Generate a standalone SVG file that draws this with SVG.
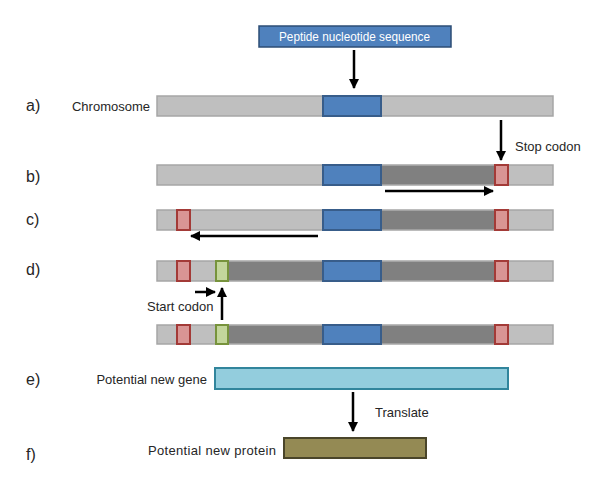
<svg xmlns="http://www.w3.org/2000/svg" width="600" height="477" viewBox="0 0 600 477">
<style>
text{font-family:"Liberation Sans",Arial,sans-serif;fill:#262626}
.lbl{font-size:16px}
.t{font-size:13px}
.bar{fill:#bfbfbf;stroke:#a6a6a6;stroke-width:1.5}
.dk{fill:#808080}
.blue{fill:#4f81bd;stroke:#385d8a;stroke-width:2}
.red{fill:#d99594;stroke:#a33a37;stroke-width:2}
.grn{fill:#c3d69b;stroke:#77933c;stroke-width:2}
.ar{stroke:#000;stroke-width:2.5;fill:none;marker-end:url(#ah)}
</style>
<defs>
<marker id="ah" viewBox="0 0 10 10" refX="9" refY="5" markerWidth="4" markerHeight="4" orient="auto" markerUnits="strokeWidth">
<path d="M0,0 L10,5 L0,10 Z" fill="#000"/>
</marker>
</defs>
<rect width="600" height="477" fill="#fff"/>

<g id="labels">
<text class="lbl" x="26" y="111">a)</text>
<text class="lbl" x="26" y="182">b)</text>
<text class="lbl" x="26" y="225">c)</text>
<text class="lbl" x="26" y="275">d)</text>
<text class="lbl" x="26" y="385">e)</text>
<text class="lbl" x="26" y="460">f)</text>
</g>

<g id="peptide">
<rect x="259" y="26" width="192" height="21" fill="#4f81bd" stroke="#2c4d75" stroke-width="1.5"/>
<text class="t" x="279" y="41" textLength="151" lengthAdjust="spacingAndGlyphs" style="fill:#fff">Peptide nucleotide sequence</text>
</g>

<g id="row-a">
<text class="t" x="150" y="111" text-anchor="end">Chromosome</text>
<rect class="bar" x="157" y="96" width="396" height="20"/>
<rect class="blue" x="323" y="96" width="58" height="20"/>
</g>

<g id="row-b">
<rect class="bar" x="157" y="165" width="396" height="20"/>
<rect class="dk" x="381" y="165.8" width="114" height="18.5"/>
<rect class="blue" x="323" y="165" width="58" height="20"/>
<rect class="red" x="495" y="165" width="13" height="20"/>
<text class="t" x="515" y="151">Stop codon</text>
</g>

<g id="row-c">
<rect class="bar" x="157" y="210" width="396" height="20"/>
<rect class="dk" x="381" y="210.8" width="114" height="18.5"/>
<rect class="blue" x="323" y="210" width="58" height="20"/>
<rect class="red" x="495" y="210" width="13" height="20"/>
<rect class="red" x="177" y="210" width="13" height="20"/>
</g>

<g id="row-d1">
<rect class="bar" x="157" y="261" width="396" height="20"/>
<rect class="dk" x="228" y="261.8" width="267" height="18.5"/>
<rect class="blue" x="323" y="261" width="58" height="20"/>
<rect class="red" x="495" y="261" width="13" height="20"/>
<rect class="red" x="177" y="261" width="13" height="20"/>
<rect class="grn" x="216" y="261" width="12" height="20"/>
</g>

<g id="row-d2">
<rect class="bar" x="157" y="325" width="396" height="19"/>
<rect class="dk" x="228" y="325.8" width="267" height="17.5"/>
<rect class="blue" x="323" y="325" width="58" height="19"/>
<rect class="red" x="495" y="325" width="13" height="19"/>
<rect class="red" x="177" y="325" width="13" height="19"/>
<rect class="grn" x="216" y="325" width="12" height="19"/>
<text class="t" x="147" y="311">Start codon</text>
</g>

<g id="row-e">
<text class="t" x="207" y="384" text-anchor="end">Potential new gene</text>
<rect x="215" y="368" width="293" height="21" fill="#93cddd" stroke="#31859c" stroke-width="2"/>
<text class="t" x="375" y="417">Translate</text>
</g>

<g id="row-f">
<text class="t" x="148" y="455" textLength="128" lengthAdjust="spacing">Potential new protein</text>
<rect x="284" y="438" width="142" height="20" fill="#948a54" stroke="#4a452a" stroke-width="2"/>
</g>

<g id="connectors">
<line class="ar" x1="354" y1="50" x2="354" y2="88"/>
<line class="ar" x1="501" y1="120" x2="501" y2="160"/>
<line class="ar" x1="385" y1="191" x2="493" y2="191"/>
<line class="ar" x1="318" y1="236" x2="191" y2="236"/>
<line class="ar" x1="222" y1="320" x2="222" y2="288"/>
<line class="ar" x1="195" y1="292" x2="215" y2="292"/>
<line class="ar" x1="353" y1="392" x2="353" y2="431"/>
</g>
</svg>
